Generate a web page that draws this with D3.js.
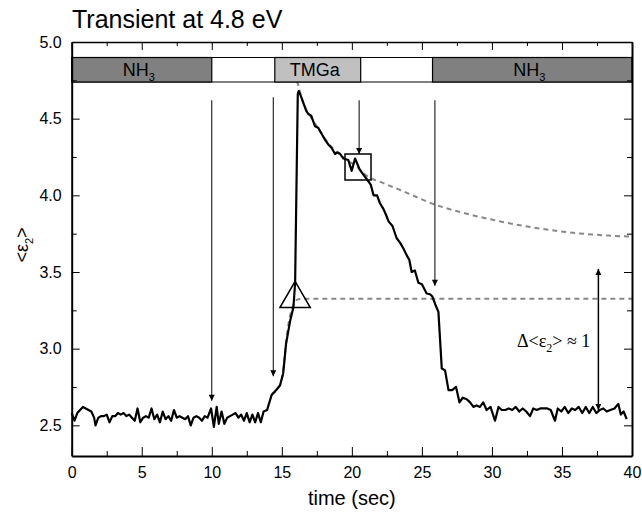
<!DOCTYPE html>
<html>
<head>
<meta charset="utf-8">
<script src="https://cdn.jsdelivr.net/npm/d3@7"></script>
<style>
  body { margin: 0; background: #fff; }
  svg { display: block; font-family: "Liberation Sans", Arial, sans-serif; }
  .axis path, .axis line { stroke: #000; }
  .axis text { font-size: 16px; fill: #000; font-family: "Liberation Sans", Arial, sans-serif; }
</style>
</head>
<body>
<svg id="chart" width="642" height="518"></svg>
<script>
// measured transient <eps2>(t), [time in s, value]
const transient = [
  [0.0,2.58],[0.2,2.53],[0.4,2.58],[0.6,2.60],[0.8,2.62],[1.0,2.61],[1.2,2.60],[1.4,2.59],[1.6,2.55],[1.7,2.50],
  [1.9,2.55],[2.1,2.56],[2.3,2.56],[2.5,2.57],[2.7,2.52],[2.9,2.56],[3.1,2.56],[3.3,2.58],[3.5,2.57],[3.7,2.58],
  [3.9,2.56],[4.1,2.57],[4.3,2.55],[4.5,2.53],[4.7,2.61],[4.9,2.52],[5.1,2.55],[5.3,2.56],[5.5,2.55],[5.7,2.61],
  [5.9,2.54],[6.1,2.57],[6.3,2.52],[6.5,2.59],[6.7,2.54],[6.9,2.56],[7.1,2.53],[7.3,2.60],[7.5,2.55],[7.7,2.56],
  [7.9,2.55],[8.1,2.54],[8.3,2.56],[8.5,2.50],[8.7,2.55],[8.9,2.56],[9.1,2.55],[9.3,2.53],[9.5,2.56],[9.7,2.55],
  [9.95,2.61],[10.15,2.49],[10.35,2.62],[10.5,2.51],[10.7,2.59],[10.9,2.51],[11.1,2.55],[11.3,2.56],[11.5,2.57],
  [11.7,2.58],[11.9,2.55],[12.1,2.57],[12.3,2.53],[12.5,2.58],[12.7,2.52],[12.9,2.57],[13.1,2.52],[13.3,2.58],
  [13.5,2.52],[13.7,2.59],[13.95,2.60],
  [14.28,2.70],[14.6,2.73],[14.87,2.76],[15.1,2.84],[15.3,3.03],[15.59,3.18],[15.83,3.27],[15.95,3.43],[16.14,4.66],[16.2,4.68],
  [16.35,4.65],[16.55,4.60],[16.75,4.55],[16.9,4.53],[17.1,4.52],[17.37,4.45],[17.6,4.44],[17.85,4.40],[18.1,4.36],
  [18.33,4.33],[18.55,4.31],[18.8,4.27],[19.0,4.28],[19.16,4.27],[19.4,4.24],[19.75,4.23],[19.99,4.16],[20.23,4.24],
  [20.55,4.17],[20.94,4.12],[21.19,4.09],[21.35,4.07],[21.55,4.00],[21.8,4.00],[22.0,3.95],[22.26,3.91],[22.45,3.87],
  [22.62,3.83],[22.9,3.80],[23.2,3.72],[23.45,3.69],[23.7,3.65],[23.91,3.61],[24.1,3.58],[24.27,3.50],[24.5,3.51],
  [24.75,3.43],[25.0,3.42],[25.34,3.36],[25.58,3.355],[25.75,3.34],[25.95,3.29],[26.18,3.24],
  [26.42,2.87],[26.65,2.86],[26.9,2.73],[27.15,2.73],[27.44,2.75],[27.68,2.65],[27.92,2.68],[28.2,2.67],[28.44,2.65],
  [28.68,2.62],[28.9,2.63],[29.15,2.62],[29.38,2.65],[29.62,2.60],[29.9,2.62],[30.22,2.53],[30.47,2.62],[30.7,2.60],
  [30.95,2.60],[31.2,2.61],[31.45,2.60],[31.7,2.62],[31.95,2.59],[32.2,2.61],[32.45,2.59],[32.72,2.56],[32.95,2.61],
  [33.2,2.60],[33.45,2.61],[33.7,2.61],[33.95,2.61],[34.2,2.60],[34.5,2.53],[34.7,2.61],[34.95,2.59],[35.2,2.62],
  [35.45,2.58],[35.7,2.61],[35.95,2.60],[36.2,2.62],[36.45,2.58],[36.7,2.62],[36.95,2.58],[37.2,2.62],[37.45,2.58],
  [37.7,2.60],[37.95,2.61],[38.2,2.59],[38.45,2.60],[38.75,2.61],[39.02,2.64],[39.2,2.57],[39.4,2.59],[39.62,2.54]
];

// dashed fits (rise to plateau, decay after TMGa)
const riseFit = [[14.29,2.70],[14.7,2.74],[15.0,2.80],[15.15,2.90],[15.35,3.08],[15.6,3.22],[15.85,3.29],[16.1,3.32],[16.5,3.325],[40,3.325]];
const decayFit = [[15.9,4.80],[16.17,4.72],[16.5,4.61],[17.0,4.52],[17.5,4.45],[18.5,4.32],[19.5,4.24],[20.45,4.18],[20.95,4.135],
  [22.25,4.08],[23.45,4.035],[25.93,3.94],[28.2,3.88],[30.6,3.83],[32.95,3.79],[35.35,3.76],[40,3.73]];

// gas switching sequence
const gasLabels = ["NH", "TMGa", "NH"];
const gasSubs = ["3", "", "3"];
const gasStart = [0, 14.5, 25.76];
const gasEnd = [10, 20.63, 40];
const gasFill = ["#808080", "#c0c0c0", "#808080"];

// arrows: time, top value, tip value
const arrowTimes = [10.0, 14.39, 20.52, 25.93];
const arrowTops = [4.62, 4.64, 4.62, 4.62];
const arrowTips = [2.66, 2.82, 4.27, 3.41];

const xMajor = [0, 5, 10, 15, 20, 25, 30, 35, 40];
const xMinor = [2.5, 7.5, 12.5, 17.5, 22.5, 27.5, 32.5, 37.5];
const yMajor = [2.5, 3.0, 3.5, 4.0, 4.5, 5.0];
const yMinor = [2.75, 3.25, 3.75, 4.25, 4.75];

const svg = d3.select("#chart");
const plotLeft = 71.7, plotRight = 632, plotTop = 42, plotBottom = 456;

const x = d3.scaleLinear().domain([0, 40]).range([plotLeft, plotRight]);
const y = d3.scaleLinear().domain([2.3, 5.0]).range([plotBottom, plotTop]);

// arrowhead marker
const defs = svg.append("defs");
defs.append("marker")
  .attr("id", "head")
  .attr("viewBox", "0 0 10 10")
  .attr("refX", 10).attr("refY", 5)
  .attr("markerUnits", "userSpaceOnUse")
  .attr("markerWidth", 8).attr("markerHeight", 6)
  .attr("orient", "auto-start-reverse")
  .append("path")
  .attr("d", "M0,0 L10,5 L0,10 z")
  .attr("fill", "#000");

// fitted curves (under data)
const fitLine = d3.line().x(d => x(d[0])).y(d => y(d[1])).curve(d3.curveMonotoneX);
[riseFit, decayFit].forEach(f => {
  svg.append("path")
    .attr("d", fitLine(f))
    .attr("fill", "none")
    .attr("stroke", "#888")
    .attr("stroke-width", 2)
    .attr("stroke-dasharray", "5,4");
});

// data
svg.append("path")
  .attr("d", d3.line().x(d => x(d[0])).y(d => y(d[1]))(transient))
  .attr("fill", "none")
  .attr("stroke", "#000")
  .attr("stroke-width", 2.2)
  .attr("stroke-linejoin", "round");

// markers: triangle at plateau onset, square at decay start
svg.append("path")
  .attr("d", d3.symbol().type(d3.symbolTriangle).size(400)())
  .attr("transform", "translate(" + x(15.95) + "," + y(3.325) + ")")
  .attr("fill", "none").attr("stroke", "#000").attr("stroke-width", 1.5);
svg.append("path")
  .attr("d", d3.symbol().type(d3.symbolSquare).size(676)())
  .attr("transform", "translate(" + x(20.44) + "," + y(4.185) + ")")
  .attr("fill", "none").attr("stroke", "#000").attr("stroke-width", 1.5);

// vertical arrows
arrowTimes.forEach((t, i) => {
  svg.append("line")
    .attr("x1", x(t)).attr("x2", x(t))
    .attr("y1", y(arrowTops[i])).attr("y2", y(arrowTips[i]))
    .attr("stroke", "#000").attr("stroke-width", 1)
    .attr("marker-end", "url(#head)");
});

// double arrow for the step height
svg.append("line")
  .attr("x1", x(37.6)).attr("x2", x(37.6))
  .attr("y1", y(2.60)).attr("y2", y(3.52))
  .attr("stroke", "#000").attr("stroke-width", 1.5)
  .attr("marker-start", "url(#head)")
  .attr("marker-end", "url(#head)");

const note = svg.append("text")
  .attr("x", 517).attr("y", 347)
  .attr("font-family", "'Liberation Serif', 'Times New Roman', serif")
  .attr("font-size", 18);
note.append("tspan").text("\u0394<\u03b5");
note.append("tspan").attr("dy", 5).attr("font-size", 12).text("2");
note.append("tspan").attr("dy", -5).text("> \u2248 1");

// top gas panel
const panelBottom = 82, barTop = 57.5;
svg.append("rect")
  .attr("x", plotLeft).attr("y", plotTop)
  .attr("width", plotRight - plotLeft).attr("height", panelBottom - plotTop)
  .attr("fill", "#fff");
svg.append("line")
  .attr("x1", plotLeft).attr("x2", plotRight).attr("y1", barTop).attr("y2", barTop)
  .attr("stroke", "#000");
svg.append("line")
  .attr("x1", plotLeft).attr("x2", plotRight).attr("y1", panelBottom).attr("y2", panelBottom)
  .attr("stroke", "#000");
gasLabels.forEach((g, i) => {
  svg.append("rect")
    .attr("x", x(gasStart[i])).attr("y", barTop)
    .attr("width", x(gasEnd[i]) - x(gasStart[i]))
    .attr("height", panelBottom - barTop)
    .attr("fill", gasFill[i]).attr("stroke", "#000").attr("stroke-width", 1.2);
  const lbl = svg.append("text")
    .attr("x", (x(gasStart[i]) + x(gasEnd[i])) / 2 - 3)
    .attr("y", 76)
    .attr("text-anchor", "middle")
    .attr("font-size", 18);
  lbl.append("tspan").text(g);
  if (gasSubs[i]) lbl.append("tspan").attr("dy", 5).attr("font-size", 11).text(gasSubs[i]);
});

// axes
svg.append("g").attr("class", "axis")
  .attr("transform", "translate(0," + plotBottom + ")")
  .call(d3.axisBottom(x).tickValues(xMajor).tickFormat(d3.format("d")).tickSizeInner(-9).tickSizeOuter(0).tickPadding(11))
  .call(g => g.select(".domain").attr("stroke-width", 2));
svg.append("g").attr("class", "axis")
  .attr("transform", "translate(0," + plotBottom + ")")
  .call(d3.axisBottom(x).tickValues(xMinor).tickFormat("").tickSizeInner(-5).tickSizeOuter(0))
  .call(g => g.select(".domain").remove());

svg.append("g").attr("class", "axis")
  .attr("transform", "translate(0," + plotTop + ")")
  .call(d3.axisTop(x).tickValues(xMajor).tickFormat("").tickSizeInner(-8).tickSizeOuter(0))
  .call(g => g.select(".domain").attr("stroke-width", 1.5));
svg.append("g").attr("class", "axis")
  .attr("transform", "translate(0," + plotTop + ")")
  .call(d3.axisTop(x).tickValues(xMinor).tickFormat("").tickSizeInner(-4).tickSizeOuter(0))
  .call(g => g.select(".domain").remove());

svg.append("g").attr("class", "axis")
  .attr("transform", "translate(" + plotLeft + ",0)")
  .call(d3.axisLeft(y).tickValues(yMajor).tickFormat(d3.format(".1f")).tickSizeInner(-8).tickSizeOuter(0).tickPadding(10))
  .call(g => g.select(".domain").attr("stroke-width", 2));
svg.append("g").attr("class", "axis")
  .attr("transform", "translate(" + plotLeft + ",0)")
  .call(d3.axisLeft(y).tickValues(yMinor).tickFormat("").tickSizeInner(-5).tickSizeOuter(0))
  .call(g => g.select(".domain").remove());

svg.append("g").attr("class", "axis")
  .attr("transform", "translate(" + plotRight + ",0)")
  .call(d3.axisRight(y).tickValues(yMajor).tickFormat("").tickSizeInner(-8).tickSizeOuter(0))
  .call(g => g.select(".domain").attr("stroke-width", 2));
svg.append("g").attr("class", "axis")
  .attr("transform", "translate(" + plotRight + ",0)")
  .call(d3.axisRight(y).tickValues(yMinor).tickFormat("").tickSizeInner(-5).tickSizeOuter(0))
  .call(g => g.select(".domain").remove());

// titles
svg.append("text")
  .attr("x", 72).attr("y", 28)
  .attr("font-size", 25)
  .text("Transient at 4.8 eV");

svg.append("text")
  .attr("x", (plotLeft + plotRight) / 2).attr("y", 505)
  .attr("text-anchor", "middle")
  .attr("font-size", 20)
  .text("time (sec)");

const yl = svg.append("text")
  .attr("transform", "translate(28,245) rotate(-90)")
  .attr("text-anchor", "middle")
  .attr("font-size", 18);
yl.append("tspan").text("<\u03b5");
yl.append("tspan").attr("dy", 5).attr("font-size", 11).text("2");
yl.append("tspan").attr("dy", -5).text(">");
</script>
</body>
</html>
